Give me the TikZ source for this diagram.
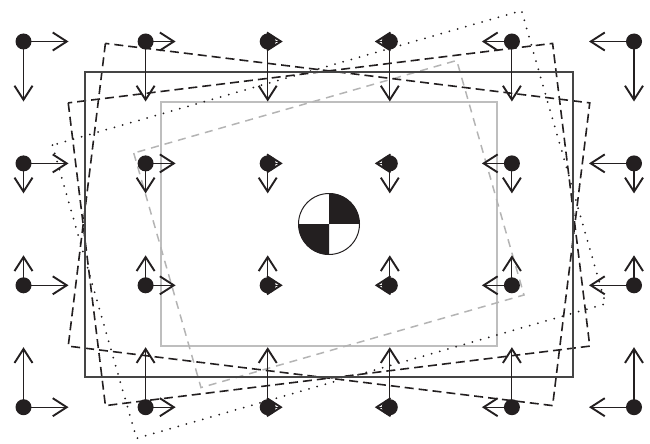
\documentclass[tikz,border=0pt]{standalone}
\usetikzlibrary{arrows.meta}
\definecolor{ink}{HTML}{231F20}
\definecolor{framegray}{HTML}{454545}
\definecolor{lightframe}{HTML}{BEBEBE}
\definecolor{lightdash}{HTML}{B4B4B4}
\begin{document}
\begin{tikzpicture}[x=1pt,y=-1pt,
  dotnode/.style={circle,fill=ink,draw=none,inner sep=0pt,minimum size=16pt},
  vec/.style={draw=ink,line width=1.1pt,-{Straight Barb[length=14pt,width=18pt,line width=1.9pt]}},
  outerframe/.style={draw=framegray,line width=1.7pt},
  innerframe/.style={draw=lightframe,line width=1.7pt},
  innerrot/.style={draw=lightdash,line width=1.5pt,dash pattern=on 8pt off 6pt},
  outerrot/.style={draw=ink,line width=1.6pt,dash pattern=on 9pt off 5pt},
  outerdot/.style={draw=ink,line width=2pt,line cap=round,dash pattern=on 0pt off 8.5pt},
  targetring/.style={draw=ink,line width=1pt}]
\useasboundingbox (0,0) rectangle (650,444);
\coordinate (ctr) at (329,224.5);
% frames
\draw[innerframe] (161,102) rectangle (497,346);
\draw[innerrot, rotate around={16:(ctr)}] (161,102) rectangle (497,346);
\draw[outerdot, rotate around={16:(ctr)}] (85,72) rectangle (573,377);
\draw[outerrot, rotate around={-7:(ctr)}] (85,72) rectangle (573,377);
\draw[outerrot, rotate around={7:(ctr)}] (85,72) rectangle (573,377);
\draw[outerframe] (85,72) rectangle (573,377);
% vector field
\foreach \c/\x/\dx in {1/23.5/45, 2/145.6/30, 3/267.7/15, 4/389.8/-15, 5/511.9/-30, 6/634/-45}{
  \foreach \r/\y/\dy in {1/41.5/60, 2/163.4/30, 3/285.3/-30, 4/407.2/-60}{
    \node[dotnode] (d\c\r) at (\x,\y) {};
    \coordinate (h\c\r) at ({\x+(\dx)},\y);
    \coordinate (v\c\r) at (\x,{\y+(\dy)});
    \draw[vec] (d\c\r.center) -- (h\c\r);
    \draw[vec] (d\c\r.center) -- (v\c\r);
  }
}
% centre mark
\node[circle,inner sep=0pt,minimum size=61pt,fill=white] (target) at (329,224) {};
\fill[ink] (target.center) -- (target.north) arc[start angle=90,end angle=0,radius=30.5pt] -- cycle;
\fill[ink] (target.center) -- (target.south) arc[start angle=270,end angle=180,radius=30.5pt] -- cycle;
\draw[targetring] (target.center) circle[radius=30.5pt];
\end{tikzpicture}
\end{document}
